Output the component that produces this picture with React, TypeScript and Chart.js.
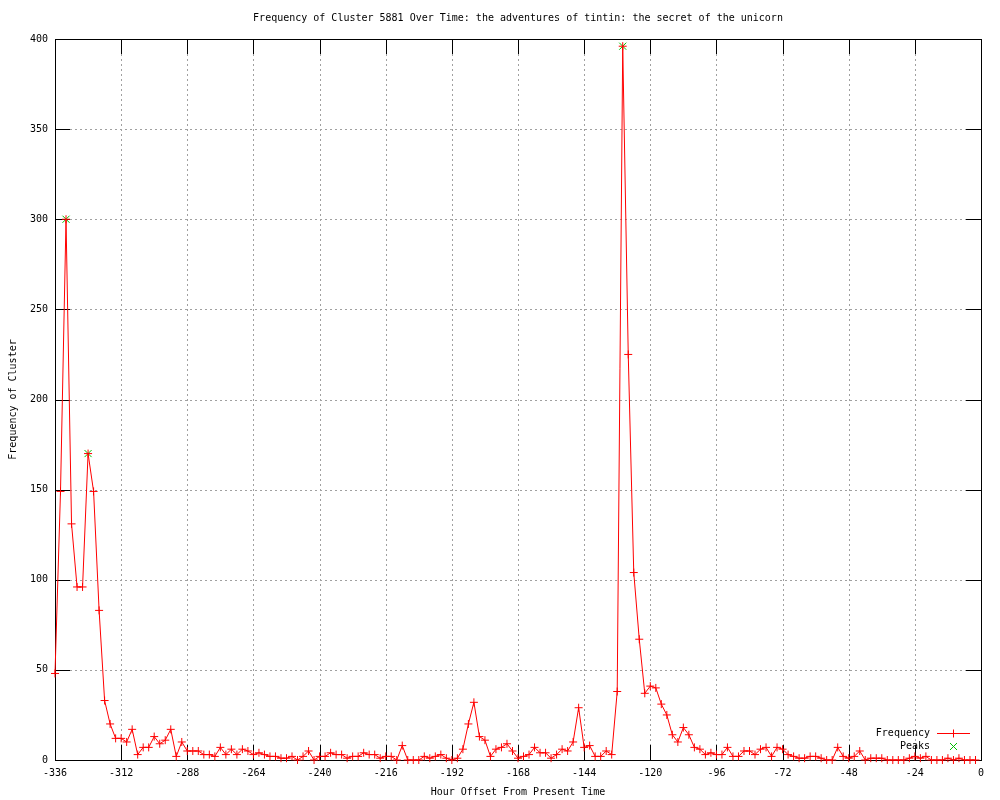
import React, { useEffect, useRef } from 'react';
import { Chart, registerables } from 'chart.js';

Chart.register(...registerables);

const titleText = 'Frequency of Cluster 5881 Over Time: the adventures of tintin: the secret of the unicorn';
const xTitle = 'Hour Offset From Present Time';
const yTitle = 'Frequency of Cluster';
const seriesLabel = 'Frequency';
const peaksLabel = 'Peaks';

const hours = [
  -336, -334, -332, -330, -328, -326, -324, -322, -320, -318, -316, -314,
  -312, -310, -308, -306, -304, -302, -300, -298, -296, -294, -292, -290,
  -288, -286, -284, -282, -280, -278, -276, -274, -272, -270, -268, -266,
  -264, -262, -260, -258, -256, -254, -252, -250, -248, -246, -244, -242,
  -240, -238, -236, -234, -232, -230, -228, -226, -224, -222, -220, -218,
  -216, -214, -212, -210, -208, -206, -204, -202, -200, -198, -196, -194,
  -192, -190, -188, -186, -184, -182, -180, -178, -176, -174, -172, -170,
  -168, -166, -164, -162, -160, -158, -156, -154, -152, -150, -148, -146,
  -144, -142, -140, -138, -136, -134, -132, -130, -128, -126, -124, -122,
  -120, -118, -116, -114, -112, -110, -108, -106, -104, -102, -100, -98,
  -96, -94, -92, -90, -88, -86, -84, -82, -80, -78, -76, -74,
  -72, -70, -68, -66, -64, -62, -60, -58, -56, -54, -52, -50,
  -48, -46, -44, -42, -40, -38, -36, -34, -32, -30, -28, -26,
  -24, -22, -20, -18, -16, -14, -12, -10, -8, -6, -4, -2,
];

const frequency = [
  48, 149, 300, 131, 96, 96, 170, 149, 83, 33, 20, 12,
  12, 10, 17, 3, 7, 7, 13, 9, 11, 17, 2, 10,
  5, 5, 5, 3, 3, 2, 7, 3, 6, 3, 6, 5,
  3, 4, 3, 2, 2, 1, 1, 2, 0, 2, 5, 0,
  2, 2, 4, 3, 3, 1, 2, 2, 4, 3, 3, 1,
  2, 2, 0, 8, 0, 0, 0, 2, 1, 2, 3, 1,
  0, 1, 6, 20, 32, 13, 11, 2, 6, 7, 9, 5,
  1, 2, 3, 7, 4, 4, 1, 3, 6, 5, 10, 29,
  7, 8, 2, 2, 5, 3, 38, 396, 225, 104, 67, 37,
  41, 40, 31, 25, 14, 10, 18, 14, 7, 6, 3, 4,
  3, 3, 7, 2, 2, 5, 5, 3, 6, 7, 2, 7,
  6, 3, 2, 1, 1, 2, 2, 1, 0, 0, 7, 2,
  1, 2, 5, 0, 1, 1, 1, 0, 0, 0, 0, 1,
  2, 1, 2, 0, 0, 0, 1, 0, 1, 0, 0, 0,
];

const peakHours = [-332, -324, -130];
const peakValues = [300, 170, 396];

const xMin = -336;
const xMax = 0;
const xStep = 24;
const yMin = 0;
const yMax = 400;
const yStep = 50;

const FONT = "'DejaVu Sans Mono', 'Liberation Mono', monospace";
const FONT_SIZE = 10;
const RED = 'rgb(255, 0, 0)';
const GREEN = 'rgb(0, 192, 0)';
const TICK_LEN = 15;

const framePlugin = {
  id: 'gnuplotFrame',
  beforeDatasetsDraw(chart: any) {
    const { ctx, chartArea: a, scales } = chart;
    const xs = scales.x;
    const ys = scales.y;
    ctx.save();
    ctx.strokeStyle = '#a0a0a0';
    ctx.lineWidth = 1;
    ctx.setLineDash([2, 3]);
    xs.ticks.forEach((t: any) => {
      const px = Math.round(xs.getPixelForValue(t.value)) + 0.5;
      ctx.beginPath();
      ctx.moveTo(px, a.top);
      ctx.lineTo(px, a.bottom);
      ctx.stroke();
    });
    ys.ticks.forEach((t: any) => {
      const py = Math.round(ys.getPixelForValue(t.value)) + 0.5;
      ctx.beginPath();
      ctx.moveTo(a.left, py);
      ctx.lineTo(a.right, py);
      ctx.stroke();
    });
    ctx.setLineDash([]);
    ctx.strokeStyle = '#000';
    xs.ticks.forEach((t: any) => {
      const px = Math.round(xs.getPixelForValue(t.value)) + 0.5;
      ctx.beginPath();
      ctx.moveTo(px, a.bottom);
      ctx.lineTo(px, a.bottom - TICK_LEN);
      ctx.moveTo(px, a.top);
      ctx.lineTo(px, a.top + TICK_LEN);
      ctx.stroke();
    });
    ys.ticks.forEach((t: any) => {
      const py = Math.round(ys.getPixelForValue(t.value)) + 0.5;
      ctx.beginPath();
      ctx.moveTo(a.left, py);
      ctx.lineTo(a.left + TICK_LEN, py);
      ctx.moveTo(a.right, py);
      ctx.lineTo(a.right - TICK_LEN, py);
      ctx.stroke();
    });
    ctx.strokeRect(Math.round(a.left) + 0.5, Math.round(a.top) + 0.5,
      Math.round(a.right) - Math.round(a.left), Math.round(a.bottom) - Math.round(a.top));
    ctx.restore();
  },
  afterDatasetsDraw(chart: any) {
    const { ctx, chartArea: a } = chart;
    const ds = chart.data.datasets;
    ctx.save();
    ctx.globalAlpha = 1;
    ctx.setLineDash([]);
    ctx.font = `${FONT_SIZE}px ${FONT}`;
    ctx.fillStyle = '#000000';
    ctx.textAlign = 'right';
    ctx.textBaseline = 'middle';
    const textRight = a.right - 51;
    const y1 = Math.round(a.bottom - 27) + 0.5;
    const y2 = Math.round(a.bottom - 14) + 0.5;
    const cx = Math.round(a.right - 28) + 0.5;
    ctx.fillText(ds[0].label, textRight, y1);
    ctx.fillText(ds[1].label, textRight, y2);
    ctx.lineWidth = 1;
    ctx.strokeStyle = ds[0].borderColor;
    ctx.beginPath();
    ctx.moveTo(a.right - 44, y1);
    ctx.lineTo(a.right - 11, y1);
    ctx.stroke();
    ctx.beginPath();
    ctx.moveTo(cx, y1 - 4);
    ctx.lineTo(cx, y1 + 4);
    ctx.stroke();
    ctx.strokeStyle = ds[1].pointBorderColor;
    ctx.beginPath();
    ctx.moveTo(cx - 3.5, y2 - 3.5);
    ctx.lineTo(cx + 3.5, y2 + 3.5);
    ctx.moveTo(cx - 3.5, y2 + 3.5);
    ctx.lineTo(cx + 3.5, y2 - 3.5);
    ctx.stroke();
    ctx.restore();
  },
};

export default function App() {
  const ref = useRef<HTMLCanvasElement>(null);

  useEffect(() => {
    if (!ref.current) return;
    const font = { family: FONT, size: FONT_SIZE, weight: 'normal' as const, lineHeight: 12 / FONT_SIZE };
    const chart = new Chart(ref.current, {
      type: 'line',
      data: {
        datasets: [
          {
            label: seriesLabel,
            data: hours.map((h, i) => ({ x: h, y: frequency[i] })),
            borderColor: RED,
            borderWidth: 1,
            tension: 0,
            fill: false,
            pointStyle: 'cross',
            pointRadius: 4,
            pointHoverRadius: 4,
            pointBorderColor: RED,
            pointBackgroundColor: RED,
            pointBorderWidth: 1,
            clip: false as any,
          },
          {
            label: peaksLabel,
            data: peakHours.map((h, i) => ({ x: h, y: peakValues[i] })),
            showLine: false,
            pointStyle: 'crossRot',
            pointRadius: 5,
            pointHoverRadius: 5,
            pointBorderColor: GREEN,
            pointBackgroundColor: GREEN,
            pointBorderWidth: 1,
            borderColor: GREEN,
            clip: false as any,
          },
        ],
      },
      options: {
        responsive: false,
        animation: false,
        devicePixelRatio: 1,
        events: [],
        layout: { padding: { left: 0, right: 19, top: 0, bottom: 0 } },
        plugins: {
          legend: { display: false },
          tooltip: { enabled: false },
          title: {
            display: true,
            text: titleText,
            fullSize: false,
            color: '#000',
            font,
            padding: { top: 12, bottom: 15 },
          },
        },
        scales: {
          x: {
            type: 'linear',
            min: xMin,
            max: xMax,
            afterFit: (s: any) => { s.height = 40; },
            grid: { display: false, drawTicks: false, tickLength: 0 },
            border: { display: false },
            ticks: {
              stepSize: xStep,
              color: '#000',
              font,
              padding: 7,
              maxRotation: 0,
              autoSkip: false,
            },
            title: { display: true, text: xTitle, color: '#000', font, padding: { top: 0, bottom: 2 } },
          },
          y: {
            type: 'linear',
            min: yMin,
            max: yMax,
            afterFit: (s: any) => { s.width = 55; },
            grid: { display: false, drawTicks: false, tickLength: 0 },
            border: { display: false },
            ticks: {
              stepSize: yStep,
              color: '#000',
              font,
              padding: 7,
              autoSkip: false,
            },
            title: { display: true, text: yTitle, color: '#000', font, padding: { top: 7, bottom: 0 } },
          },
        },
      },
      plugins: [framePlugin],
    });
    return () => chart.destroy();
  }, []);

  return (
    <div style={{ position: 'absolute', left: 0, top: 0, width: 1000, height: 800, background: '#fff' }}>
      <canvas ref={ref} width={1000} height={800} style={{ display: 'block', width: 1000, height: 800 }} />
    </div>
  );
}
